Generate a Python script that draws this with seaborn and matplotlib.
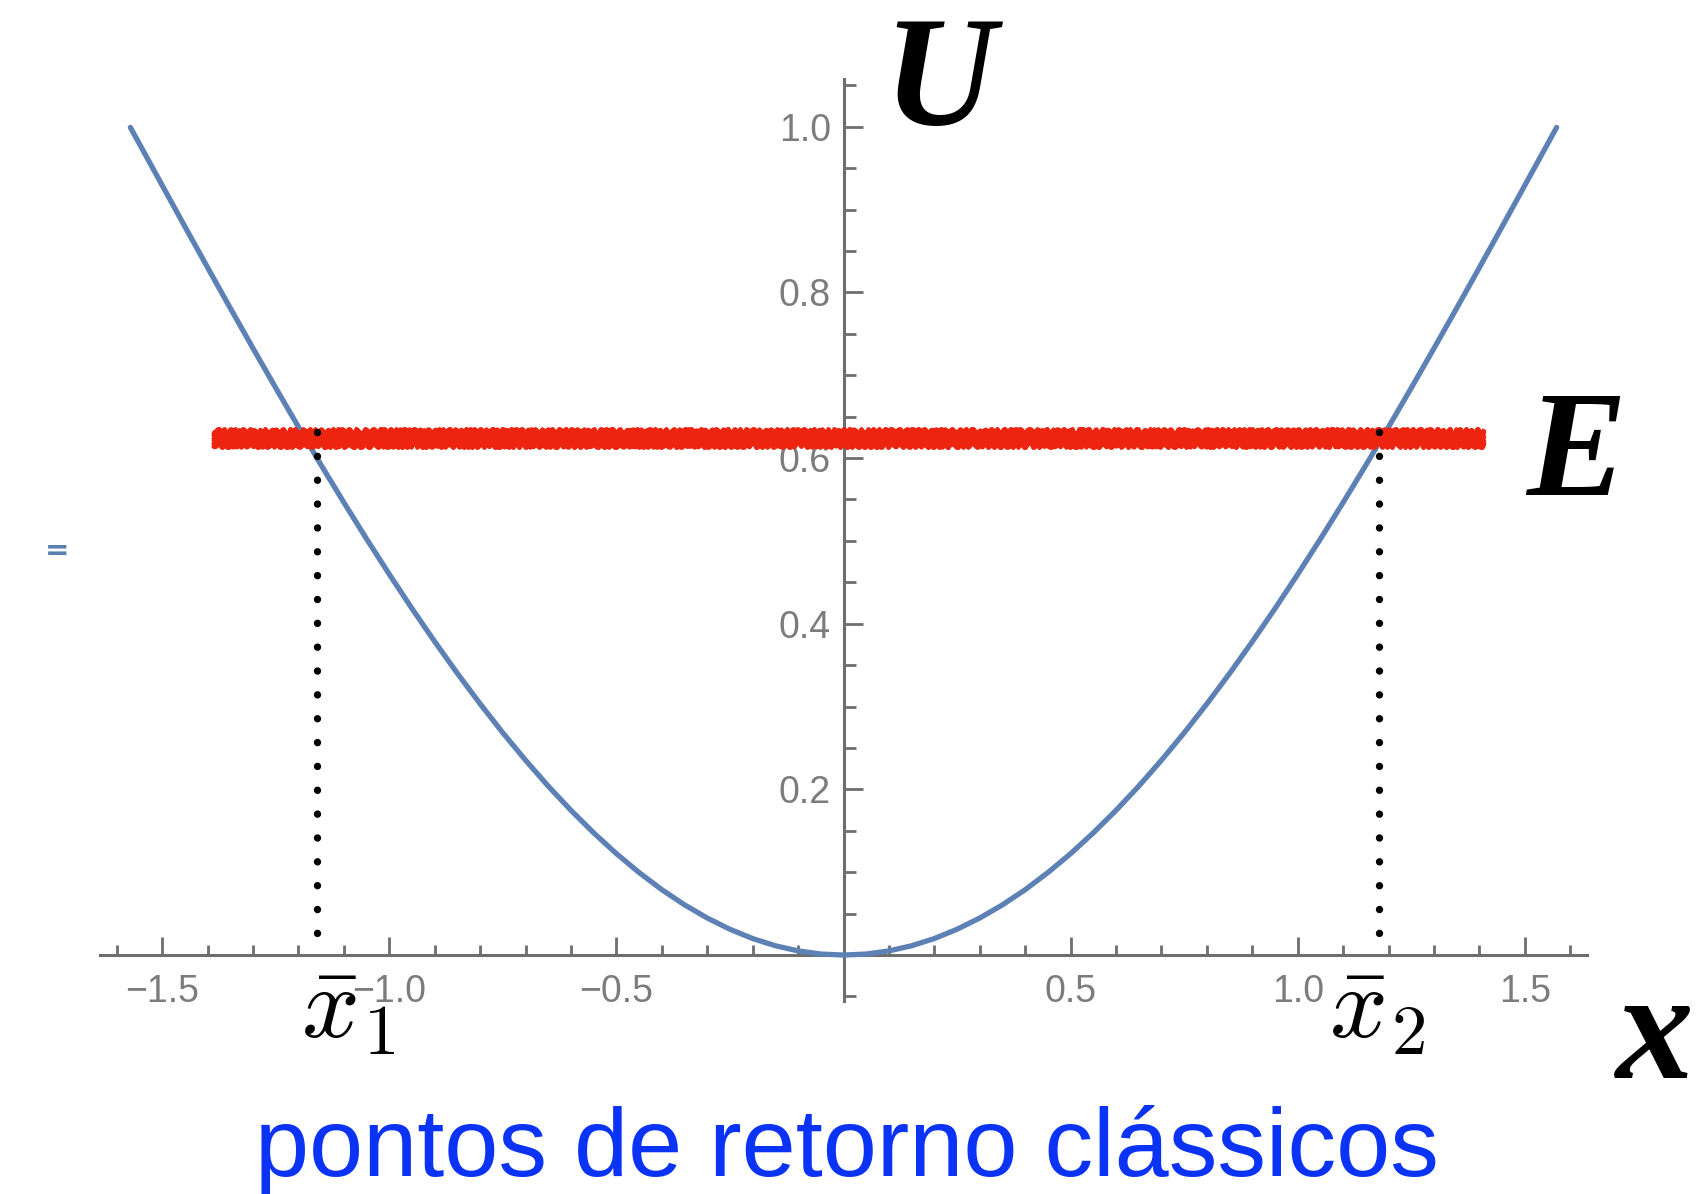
import numpy as np
import pandas as pd
import matplotlib
matplotlib.use("Agg")
import matplotlib.pyplot as plt
import seaborn as sns
from matplotlib.ticker import FixedLocator, FixedFormatter

# Potential energy curve U(x) of the well (right half; the well is symmetric)
x_half = [0.0, 0.05, 0.10, 0.15, 0.20, 0.25, 0.30, 0.35, 0.40, 0.45, 0.50, 0.55,
          0.60, 0.65, 0.70, 0.75, 0.80, 0.85, 0.90, 0.95, 1.00, 1.05, 1.10, 1.15,
          1.20, 1.25, 1.30, 1.35, 1.40, 1.45, 1.50, 1.55, 1.57]
u_half = [0.0000, 0.0012, 0.0050, 0.0112, 0.0199, 0.0311, 0.0447, 0.0606, 0.0789,
          0.0996, 0.1224, 0.1475, 0.1747, 0.2039, 0.2352, 0.2683, 0.3033, 0.3400,
          0.3784, 0.4183, 0.4597, 0.5024, 0.5464, 0.5915, 0.6376, 0.6847, 0.7325,
          0.7810, 0.8300, 0.8795, 0.9293, 0.9792, 0.9992]

# Energy level and the classical turning points
energy = 0.624
energy_span = [-1.39, 1.41]
turning_points = [-1.16, 1.18]
turning_labels = [r"$\bar{x}_1$", r"$\bar{x}_2$"]

# Axis ticks
x_major = [-1.5, -1.0, -0.5, 0.5, 1.0, 1.5]
x_major_labels = ["\u22121.5", "\u22121.0", "\u22120.5", "0.5", "1.0", "1.5"]
y_major = [0.2, 0.4, 0.6, 0.8, 1.0]
y_major_labels = ["0.2", "0.4", "0.6", "0.8", "1.0"]
x_minor = np.round(np.arange(-1.6, 1.61, 0.1), 2)
y_minor = np.round(np.arange(-0.05, 1.051, 0.05), 2)

sns.set_theme(style="white")
plt.rcParams["font.family"] = ["Liberation Sans", "DejaVu Sans"]
plt.rcParams["mathtext.fontset"] = "cm"

fig = plt.figure(figsize=(17.07, 11.94), dpi=100)
ax = fig.add_axes([0, 0, 1, 1])
ax.set_xlim(-1.857, 1.901)
ax.set_ylim(-0.2885, 1.153)

df = pd.DataFrame({
    "x": [-v for v in x_half[::-1]] + x_half[1:],
    "U": u_half[::-1] + u_half[1:],
})
sns.lineplot(data=df, x="x", y="U", ax=ax, color="#5e81b5", linewidth=3.8, zorder=3)

# Hand-drawn style energy level
for off in np.linspace(-0.0085, 0.0085, 7):
    ln, = ax.plot(energy_span, [energy + off, energy + off], color="#ec2410",
                  linewidth=3.4, solid_capstyle="butt", zorder=4)
    ln.set_sketch_params(scale=2.2, length=7, randomness=3)
ax.plot(energy_span, [energy, energy], color="#ec2410", linewidth=9,
        solid_capstyle="butt", zorder=4)

# Dotted drop lines at the turning points
for xt in turning_points:
    ax.plot([xt, xt], [energy + 0.008, 0.015], color="black", linewidth=5.3,
            linestyle=(0, (0.01, 3.23)), dash_capstyle="round", zorder=5)

# Axes through the origin
for side in ["top", "right"]:
    ax.spines[side].set_visible(False)
ax.spines["left"].set_position(("data", 0))
ax.spines["bottom"].set_position(("data", 0))
ax.spines["left"].set_bounds(-0.055, 1.058)
ax.spines["bottom"].set_bounds(-1.637, 1.637)
for side in ["left", "bottom"]:
    ax.spines[side].set_color("#6e6e6e")
    ax.spines[side].set_linewidth(2.2)
    ax.spines[side].set_zorder(2)

ax.xaxis.set_major_locator(FixedLocator(x_major))
ax.xaxis.set_major_formatter(FixedFormatter(x_major_labels))
ax.xaxis.set_minor_locator(FixedLocator(x_minor))
ax.yaxis.set_major_locator(FixedLocator(y_major))
ax.yaxis.set_major_formatter(FixedFormatter(y_major_labels))
ax.yaxis.set_minor_locator(FixedLocator(y_minor))

ax.tick_params(which="both", bottom=True, left=True, top=False, right=False)
ax.tick_params(axis="x", which="major", direction="in", length=13, width=2,
               color="#6e6e6e", pad=14, labelsize=27, labelcolor="#7c7c7c")
ax.tick_params(axis="x", which="minor", direction="in", length=7.5, width=2,
               color="#6e6e6e")
ax.tick_params(axis="y", which="major", direction="in", length=13.5, width=2,
               color="#6e6e6e", pad=9, labelsize=27, labelcolor="#7c7c7c")
ax.tick_params(axis="y", which="minor", direction="in", length=8.5, width=2,
               color="#6e6e6e")
ax.set_xlabel("")
ax.set_ylabel("")
ax.grid(False)

# Annotations
serif = ["Liberation Serif", "DejaVu Serif"]
ax.text(0.212, 1.002, "U", fontsize=112, family=serif, style="italic", weight="bold",
        ha="center", va="baseline", color="black")
ax.text(1.612, 0.555, "E", fontsize=108, family=serif, style="italic", weight="bold",
        ha="center", va="baseline", color="black")
ax.text(1.786, -0.1485, "x", fontsize=112, family=serif, style="italic", weight="bold",
        ha="center", va="baseline", color="black")
for lab, xc in zip(turning_labels, [-1.09, 1.175]):
    ax.text(xc, -0.1000, lab, fontsize=73, ha="center", va="baseline", color="black")

ax.text(0.008, -0.267, "pontos de retorno cl\u00e1ssicos", fontsize=70, color="#0a33f5",
        ha="center", va="baseline")
ax.text(-1.731, 0.488, "=", fontsize=21, color="#5b7fb0", ha="center", va="center",
        family=["DejaVu Sans"], weight="bold")

fig.savefig("out.png", dpi=100)
